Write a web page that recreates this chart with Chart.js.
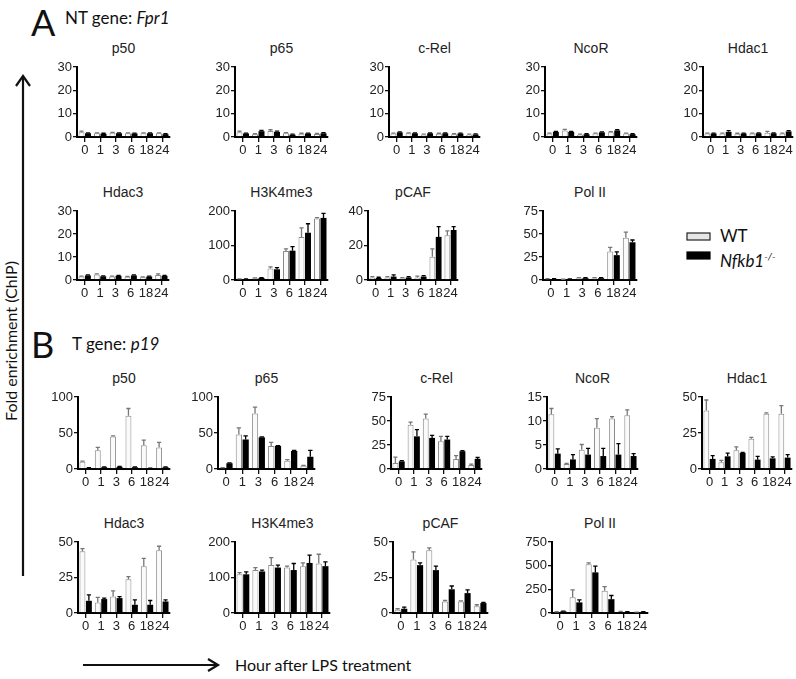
<!DOCTYPE html>
<html>
<head>
<meta charset="utf-8">
<script src="https://cdn.jsdelivr.net/npm/chart.js@4.4.1/dist/chart.umd.min.js"></script>
<style>
  body { margin: 0; background: #fff; }
  #page { position: relative; width: 796px; height: 679px; overflow: hidden; font-family: "Liberation Sans", Arial, sans-serif; }
  .panel { position: absolute; }
  .ptitle { position: absolute; font-size: 14px; color: #222; text-align: center; width: 120px; line-height: 14px; font-family: "Liberation Sans Narrow", "Liberation Sans", Arial, sans-serif; }
  .lbl { position: absolute; font-family: Lato, "Open Sans", sans-serif; color: #111; white-space: nowrap; }
</style>
</head>
<body>
<div id="page">
  <div class="lbl" style="left:31px;top:2px;font-size:36px;line-height:40px;">A</div>
  <div class="lbl" style="left:65px;top:8px;font-size:17px;line-height:20px;">NT gene: <i>Fpr1</i></div>
  <div class="lbl" style="left:31px;top:324px;font-size:36px;line-height:40px;">B</div>
  <div class="lbl" style="left:72px;top:334px;font-size:17px;line-height:20px;">T gene: <i>p19</i></div>
  <div class="lbl" style="left:-84px;top:331px;width:190px;text-align:center;font-size:16px;line-height:20px;transform:rotate(-90deg);">Fold enrichment (ChIP)</div>
  <div class="lbl" style="left:235px;top:655px;font-size:16px;line-height:20px;">Hour after LPS treatment</div>
  <svg style="position:absolute;left:0;top:0" width="796" height="679">
    <line x1="23" y1="78" x2="23" y2="576" stroke="#111" stroke-width="2.2"/>
    <polyline points="16,86 23,76 30,86" fill="none" stroke="#111" stroke-width="2.2"/>
    <line x1="83" y1="665" x2="216" y2="665" stroke="#111" stroke-width="2.2"/>
    <polyline points="208,659 218,665 208,671" fill="none" stroke="#111" stroke-width="2.2"/>
    <rect x="687" y="233" width="23" height="7" fill="#e6e6e6" stroke="#222" stroke-width="1.2"/>
    <rect x="687" y="252" width="23" height="7" fill="#000" stroke="#000" stroke-width="1.2"/>
  </svg>
  <div class="lbl" style="left:720px;top:226px;font-size:17px;line-height:20px;">WT</div>
  <div class="lbl" style="left:720px;top:246px;font-size:17px;line-height:20px;"><i>Nfkb1</i><sup style="font-size:10px;"><i>-/-</i></sup></div>
</div>
<script>
// hours after LPS
var hours = ['0', '1', '3', '6', '18', '24'];

// A: NT gene Fpr1
var aP50Wt = [2.0, 1.6, 1.8, 1.6, 1.6, 1.6], aP50Ko = [1.6, 1.4, 1.6, 1.5, 1.6, 1.2];
var aP50WtErr = [0.5, 0.2, 0.2, 0.2, 0.2, 0.2], aP50KoErr = [0.2, 0.2, 0.2, 0.2, 0.2, 0.2];
var aP65Wt = [2.0, 1.2, 2.6, 1.6, 1.4, 1.3], aP65Ko = [1.5, 2.5, 2.2, 1.0, 1.5, 1.6];
var aP65WtErr = [0.5, 0.2, 0.5, 0.3, 0.2, 0.2], aP65KoErr = [0.2, 0.3, 0.3, 0.2, 0.2, 0.3];
var aRelWt = [1.5, 1.6, 1.0, 1.4, 1.2, 1.0], aRelKo = [2.0, 1.6, 1.6, 1.6, 1.5, 1.1];
var aRelWtErr = [0.2, 0.2, 0.2, 0.2, 0.2, 0.2], aRelKoErr = [0.2, 0.2, 0.2, 0.2, 0.2, 0.2];
var aNcorWt = [1.5, 2.8, 1.0, 1.5, 2.0, 1.5], aNcorKo = [2.2, 2.2, 1.2, 2.0, 2.8, 1.2];
var aNcorWtErr = [0.2, 0.5, 0.2, 0.2, 0.3, 0.2], aNcorKoErr = [0.2, 0.2, 0.2, 0.2, 0.3, 0.2];
var aHdac1Wt = [1.5, 1.5, 1.4, 1.5, 1.8, 1.5], aHdac1Ko = [1.5, 2.2, 1.5, 1.6, 1.6, 2.4];
var aHdac1WtErr = [0.2, 0.2, 0.2, 0.2, 0.6, 0.2], aHdac1KoErr = [0.2, 0.5, 0.2, 0.2, 0.2, 0.3];
var aHdac3Wt = [1.5, 2.4, 1.5, 1.4, 1.2, 2.2], aHdac3Ko = [2.0, 1.6, 1.8, 2.0, 1.5, 1.8];
var aHdac3WtErr = [0.2, 0.3, 0.2, 0.2, 0.2, 0.5], aHdac3KoErr = [0.2, 0.2, 0.2, 0.2, 0.2, 0.2];
var aH3Wt = [2, 5, 33, 84, 125, 178], aH3Ko = [2, 6, 31, 85, 137, 180];
var aH3WtErr = [1, 1, 5, 6, 26, 3], aH3KoErr = [1, 1, 5, 12, 26, 13];
var aPcafWt = [1.5, 1.5, 1.0, 1.5, 13.5, 26], aPcafKo = [1.2, 2.0, 1.5, 2.0, 25, 29];
var aPcafWtErr = [0.4, 0.4, 0.4, 0.8, 4.5, 2.5], aPcafKoErr = [0.4, 1.0, 0.4, 0.5, 6, 2];
var aPol2Wt = [1.0, 0.5, 2.0, 2.0, 31, 46], aPol2Ko = [1.0, 1.0, 2.0, 2.0, 27, 41];
var aPol2WtErr = [0.5, 0.3, 0.5, 0.5, 4.5, 6], aPol2KoErr = [0.5, 0.3, 0.5, 0.5, 3.5, 2.5];

// B: T gene p19
var bP50Wt = [10, 26, 45, 74, 33, 30], bP50Ko = [1.5, 2.5, 3, 2.5, 1, 2.5];
var bP50WtErr = [1, 4, 1, 10, 7, 7], bP50KoErr = [0.3, 0.5, 0.5, 0.5, 0.3, 0.5];
var bP65Wt = [1.5, 48, 77, 32, 11.5, 4.5], bP65Ko = [8, 41, 44, 32, 25, 17];
var bP65WtErr = [0.5, 9, 9, 5, 1.5, 0.5], bP65KoErr = [0.5, 5, 0.5, 0.5, 1, 9];
var bRelWt = [6.3, 46, 52.6, 29, 10.5, 4.2], bRelKo = [8, 34, 32.4, 30.7, 18.5, 10.5];
var bRelWtErr = [6, 2.8, 4.5, 5, 3.5, 0.8], bRelKoErr = [0.7, 7, 2.6, 3.3, 0.5, 1.5];
var bNcorWt = [11.4, 1.05, 4.0, 8.6, 10.5, 11.2], bNcorKo = [3.2, 2.0, 3.0, 2.7, 3.0, 2.7];
var bNcorWtErr = [1.2, 0.1, 1.1, 1.9, 0.4, 1.1], bNcorKoErr = [1.0, 1.0, 1.3, 1.6, 2.3, 0.5];
var bHdac1Wt = [40.7, 4.7, 13, 21, 38.4, 38.4], bHdac1Ko = [7, 8.8, 11.2, 6.5, 7.4, 7.9];
var bHdac1WtErr = [7.2, 1.3, 2.3, 1, 0.6, 5.6], bHdac1KoErr = [2.3, 2.2, 0.4, 2.3, 1, 2.1];
var bHdac3Wt = [43.5, 7.4, 11.6, 23.7, 33, 44.2], bHdac3Ko = [8.6, 9.8, 10.5, 5.8, 5.8, 8.1];
var bHdac3WtErr = [1.8, 3.6, 4, 1.9, 5.5, 2.8], bHdac3KoErr = [4.2, 0.7, 1.1, 3.5, 3, 1.2];
var bH3Wt = [109, 121, 135, 128, 132, 139.5], bH3Ko = [109, 117, 128, 121, 141, 132];
var bH3WtErr = [4.5, 7, 21, 4, 9, 26], bH3KoErr = [7, 4, 7, 18.5, 22, 12];
var bPcafWt = [2.3, 37.7, 44.2, 8.1, 8.1, 4.7], bPcafKo = [3, 33.7, 30.2, 16.7, 14, 7];
var bPcafWtErr = [0.7, 5.3, 1.6, 0.7, 0.5, 1.1], bPcafKoErr = [1.2, 1.6, 2.8, 2.3, 2.3, 0.4];
var bPol2Wt = [10, 167, 516, 234, 10, 7], bPol2Ko = [17, 112, 429, 146, 10, 10];
var bPol2WtErr = [3, 77, 14, 45, 7, 3], bPol2KoErr = [3, 27, 66, 39, 3, 3];

var panels = [
  { title: 'p50', max: 30, step: 10, wt: aP50Wt, ko: aP50Ko, wtErr: aP50WtErr, koErr: aP50KoErr },
  { title: 'p65', max: 30, step: 10, wt: aP65Wt, ko: aP65Ko, wtErr: aP65WtErr, koErr: aP65KoErr },
  { title: 'c-Rel', max: 30, step: 10, wt: aRelWt, ko: aRelKo, wtErr: aRelWtErr, koErr: aRelKoErr },
  { title: 'NcoR', max: 30, step: 10, wt: aNcorWt, ko: aNcorKo, wtErr: aNcorWtErr, koErr: aNcorKoErr },
  { title: 'Hdac1', max: 30, step: 10, wt: aHdac1Wt, ko: aHdac1Ko, wtErr: aHdac1WtErr, koErr: aHdac1KoErr },
  { title: 'Hdac3', max: 30, step: 10, wt: aHdac3Wt, ko: aHdac3Ko, wtErr: aHdac3WtErr, koErr: aHdac3KoErr },
  { title: 'H3K4me3', max: 200, step: 100, wt: aH3Wt, ko: aH3Ko, wtErr: aH3WtErr, koErr: aH3KoErr },
  { title: 'pCAF', max: 40, step: 10, wt: aPcafWt, ko: aPcafKo, wtErr: aPcafWtErr, koErr: aPcafKoErr },
  { title: 'Pol II', max: 75, step: 25, wt: aPol2Wt, ko: aPol2Ko, wtErr: aPol2WtErr, koErr: aPol2KoErr },
  { title: 'p50', max: 100, step: 50, wt: bP50Wt, ko: bP50Ko, wtErr: bP50WtErr, koErr: bP50KoErr },
  { title: 'p65', max: 100, step: 50, wt: bP65Wt, ko: bP65Ko, wtErr: bP65WtErr, koErr: bP65KoErr },
  { title: 'c-Rel', max: 75, step: 25, wt: bRelWt, ko: bRelKo, wtErr: bRelWtErr, koErr: bRelKoErr },
  { title: 'NcoR', max: 15, step: 5, wt: bNcorWt, ko: bNcorKo, wtErr: bNcorWtErr, koErr: bNcorKoErr },
  { title: 'Hdac1', max: 50, step: 25, wt: bHdac1Wt, ko: bHdac1Ko, wtErr: bHdac1WtErr, koErr: bHdac1KoErr },
  { title: 'Hdac3', max: 50, step: 25, wt: bHdac3Wt, ko: bHdac3Ko, wtErr: bHdac3WtErr, koErr: bHdac3KoErr },
  { title: 'H3K4me3', max: 200, step: 100, wt: bH3Wt, ko: bH3Ko, wtErr: bH3WtErr, koErr: bH3KoErr },
  { title: 'pCAF', max: 50, step: 25, wt: bPcafWt, ko: bPcafKo, wtErr: bPcafWtErr, koErr: bPcafKoErr },
  { title: 'Pol II', max: 750, step: 250, wt: bPol2Wt, ko: bPol2Ko, wtErr: bPol2WtErr, koErr: bPol2KoErr }
];

// where each plot area sits on the page: [axis x, right end x, top tick y, zero y]
var boxes = [
  [77, 170, 67, 137], [235, 328, 67, 137], [389, 480, 67, 137], [545, 637, 67, 137], [703, 793, 67, 137],
  [77, 169, 211, 280], [235, 328, 211, 280], [368, 458, 211, 280], [543, 637, 211, 280],
  [78, 170, 397, 469], [218, 315, 397, 469], [391, 482, 397, 469], [547, 638, 397, 469], [702, 792, 397, 469],
  [78, 170, 542, 613], [235, 330, 542, 613], [393, 488, 542, 613], [552, 648, 542, 613]
];

var YW = 30, XH = 22, PT = 9, PR = 3;

// upward error bars drawn from each dataset's errors array
var errorBars = {
  id: 'errorBars',
  afterDatasetsDraw: function(chart) {
    var ctx = chart.ctx, y = chart.scales.y;
    chart.data.datasets.forEach(function(ds, i) {
      var meta = chart.getDatasetMeta(i);
      ctx.save();
      ctx.strokeStyle = ds.errColor;
      ctx.lineWidth = 1.3;
      meta.data.forEach(function(bar, j) {
        var top = y.getPixelForValue(ds.data[j] + ds.errors[j]);
        var cap = Math.max(2, bar.width * 0.35);
        ctx.beginPath();
        ctx.moveTo(bar.x, bar.y);
        ctx.lineTo(bar.x, top);
        ctx.moveTo(bar.x - cap, top);
        ctx.lineTo(bar.x + cap, top);
        ctx.stroke();
      });
      ctx.restore();
    });
  }
};

var page = document.getElementById('page');
var tickFont = { family: '"Liberation Sans Narrow", "Liberation Sans", Arial, sans-serif', size: 13 };

panels.forEach(function(p, k) {
  var b = boxes[k];
  var w = b[1] - b[0] + YW + PR, h = b[3] - b[2] + PT + XH;
  var div = document.createElement('div');
  div.className = 'panel';
  div.style.left = (b[0] - YW) + 'px';
  div.style.top = (b[2] - PT) + 'px';
  var cv = document.createElement('canvas');
  cv.width = w; cv.height = h;
  cv.style.width = w + 'px'; cv.style.height = h + 'px';
  div.appendChild(cv);
  page.appendChild(div);

  var t = document.createElement('div');
  t.className = 'ptitle';
  t.textContent = p.title;
  t.style.left = ((b[0] + b[1]) / 2 - 60) + 'px';
  t.style.top = (b[2] - 26) + 'px';
  page.appendChild(t);

  new Chart(cv.getContext('2d'), {
    type: 'bar',
    data: {
      labels: hours,
      datasets: [
        { label: 'WT', data: p.wt, errors: p.wtErr, errColor: '#777',
          backgroundColor: '#fafafa', borderColor: '#8a8a8a', borderWidth: 1 },
        { label: 'Nfkb1-/-', data: p.ko, errors: p.koErr, errColor: '#000',
          backgroundColor: '#000', borderColor: '#000', borderWidth: 0 }
      ]
    },
    options: {
      responsive: false,
      animation: false,
      categoryPercentage: 0.84,
      barPercentage: 0.92,
      layout: { padding: { top: PT, right: PR, left: 0, bottom: 0 } },
      plugins: { legend: { display: false }, tooltip: { enabled: false } },
      scales: {
        x: {
          afterFit: function(s) { s.height = XH; },
          grid: { drawOnChartArea: false, offset: false, tickLength: 5, color: '#111', lineWidth: 1.3 },
          border: { color: '#000', width: 2 },
          ticks: { font: tickFont, color: '#222', padding: 1, autoSkip: false, maxRotation: 0 }
        },
        y: {
          min: 0, max: p.max,
          afterFit: function(s) { s.width = YW; },
          grid: { drawOnChartArea: false, tickLength: 4, color: '#111', lineWidth: 1.3 },
          border: { color: '#000', width: 2 },
          ticks: { stepSize: p.step, font: tickFont, color: '#222', padding: 1 }
        }
      }
    },
    plugins: [errorBars]
  });
});
</script>
</body>
</html>
